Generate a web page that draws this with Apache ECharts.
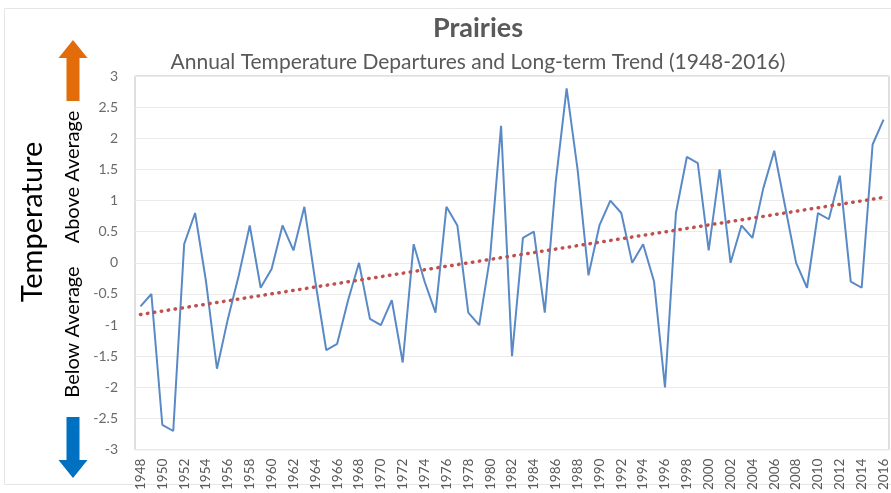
<!DOCTYPE html>
<html><head><meta charset="utf-8">
<script src="https://cdn.jsdelivr.net/npm/echarts@6/dist/echarts.min.js"></script>
<style>html,body{margin:0;padding:0;background:#fff}#c{width:891px;height:493px}</style>
</head><body><div id="c"></div>
<script>
const years = ['1948','1949','1950','1951','1952','1953','1954','1955','1956','1957',
'1958','1959','1960','1961','1962','1963','1964','1965','1966','1967',
'1968','1969','1970','1971','1972','1973','1974','1975','1976','1977',
'1978','1979','1980','1981','1982','1983','1984','1985','1986','1987',
'1988','1989','1990','1991','1992','1993','1994','1995','1996','1997',
'1998','1999','2000','2001','2002','2003','2004','2005','2006','2007',
'2008','2009','2010','2011','2012','2013','2014','2015','2016'];
const departures = [-0.7,-0.5,-2.6,-2.7,0.3,0.8,-0.3,-1.7,-0.9,-0.2,
0.6,-0.4,-0.1,0.6,0.2,0.9,-0.3,-1.4,-1.3,-0.6,
0.0,-0.9,-1.0,-0.6,-1.6,0.3,-0.3,-0.8,0.9,0.6,
-0.8,-1.0,0.1,2.2,-1.5,0.4,0.5,-0.8,1.3,2.8,
1.5,-0.2,0.6,1.0,0.8,0.0,0.3,-0.3,-2.0,0.8,
1.7,1.6,0.2,1.5,0.0,0.6,0.4,1.2,1.8,0.9,
0.0,-0.4,0.8,0.7,1.4,-0.3,-0.4,1.9,2.3];
const trendEnds = [-0.83, 1.05];
const yMin = -3, yMax = 3, yStep = 0.5;

const trendData = years.map((y, i) => i === 0 ? trendEnds[0] : (i === years.length - 1 ? trendEnds[1] : null));

const FONT = 'Lato, "Open Sans", sans-serif';
const chart = echarts.init(document.getElementById('c'), null, {renderer: 'canvas'});
chart.setOption({
  animation: false,
  backgroundColor: '#ffffff',
  title: [
    {text: 'Prairies', left: 473, top: 10, textAlign: 'center',
     textStyle: {fontFamily: FONT, fontSize: 27, fontWeight: 'bold', color: '#595959'}},
    {text: 'Annual Temperature Departures and Long-term Trend (1948-2016)', left: 473, top: 47, textAlign: 'center',
     textStyle: {fontFamily: FONT, fontSize: 21, fontWeight: 'normal', color: '#595959'}}
  ],
  grid: {left: 135, right: 2, top: 76, bottom: 40, show: true, borderColor: '#BFBFBF', borderWidth: 1, backgroundColor: 'transparent'},
  xAxis: {
    type: 'category', data: years, boundaryGap: true,
    axisLine: {show: false}, axisTick: {show: false},
    axisLabel: {rotate: 90, interval: 1, fontFamily: FONT, fontSize: 13.5, color: '#595959', margin: 9},
    splitLine: {show: false}
  },
  yAxis: {
    type: 'value', min: yMin, max: yMax, interval: yStep,
    axisLine: {show: false}, axisTick: {show: false},
    axisLabel: {fontFamily: FONT, fontSize: 14, color: '#6A6A6A', margin: 17},
    splitLine: {show: true, lineStyle: {color: '#EAEAEA', width: 1}}
  },
  series: [
    {type: 'line', name: 'Departure', data: departures, symbol: 'none',
     lineStyle: {color: '#5A8AC6', width: 2}, z: 3},
    {type: 'line', name: 'Trend', data: trendData, connectNulls: true, symbol: 'none',
     lineStyle: {color: '#C0504D', width: 3.5, type: [0.5, 6.5], cap: 'round'}, z: 4}
  ],
  graphic: [
    {type: 'rect', shape: {x: 4.5, y: 8.5, width: 900, height: 476}, style: {fill: null, stroke: '#E6E6E6', lineWidth: 1}, silent: true},
    {type: 'polygon', shape: {points: [[73,40],[87.5,58],[79.5,58],[79.5,101],[66.5,101],[66.5,58],[58.5,58]]},
     style: {fill: '#E36C0A'}},
    {type: 'polygon', shape: {points: [[73,478],[87.5,460],[79.5,460],[79.5,417],[66.5,417],[66.5,460],[58.5,460]]},
     style: {fill: '#0070C0'}},
    {type: 'text', x: 33, y: 222, rotation: Math.PI / 2,
     style: {text: 'Temperature', fontFamily: FONT, fontSize: 29, fill: '#000000', align: 'center', verticalAlign: 'middle'}},
    {type: 'text', x: 73, y: 177, rotation: Math.PI / 2,
     style: {text: 'Above Average', fontFamily: FONT, fontSize: 20, fill: '#000000', align: 'center', verticalAlign: 'middle'}},
    {type: 'text', x: 73, y: 332, rotation: Math.PI / 2,
     style: {text: 'Below Average', fontFamily: FONT, fontSize: 20, fill: '#000000', align: 'center', verticalAlign: 'middle'}}
  ]
});
</script>
</body></html>
